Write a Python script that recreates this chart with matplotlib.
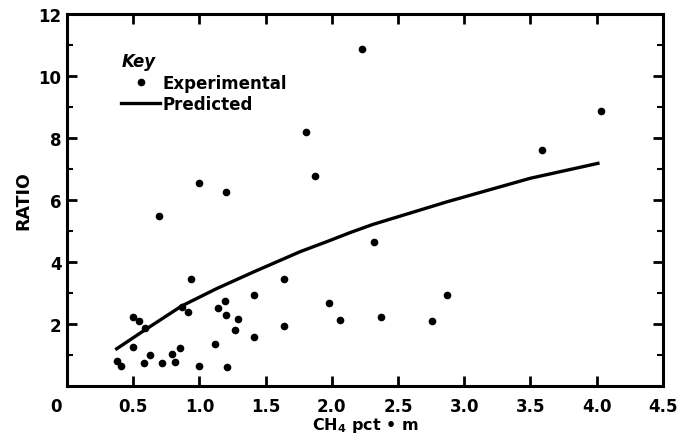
import matplotlib
matplotlib.use('Agg')
import matplotlib.pyplot as plt
import matplotlib.transforms as mtransforms
import numpy as np

plt.rcParams['font.family'] = ['DejaVu Sans']
plt.rcParams['font.weight'] = 'bold'
plt.rcParams['mathtext.fontset'] = 'custom'
plt.rcParams['mathtext.rm'] = 'DejaVu Sans:bold'
plt.rcParams['mathtext.bf'] = 'DejaVu Sans:bold'

# experimental points
exp_x = [0.38, 0.41, 0.50, 0.50, 0.54, 0.58, 0.59, 0.63, 0.695, 0.715,
         0.79, 0.815, 0.85, 0.866, 0.916, 0.94, 1.00, 1.00, 1.12, 1.14,
         1.19, 1.20, 1.20, 1.21, 1.27, 1.29, 1.415, 1.415, 1.64, 1.64,
         1.805, 1.87, 1.98, 2.06, 2.23, 2.32, 2.37, 2.76, 2.87, 3.59, 4.03]
exp_y = [0.80, 0.66, 1.25, 2.22, 2.08, 0.74, 1.87, 1.00, 5.49, 0.73,
         1.02, 0.77, 1.23, 2.55, 2.39, 3.46, 0.66, 6.54, 1.34, 2.52,
         2.73, 6.27, 2.30, 0.62, 1.82, 2.15, 2.94, 1.58, 3.46, 1.92,
         8.18, 6.77, 2.68, 2.14, 10.88, 4.65, 2.23, 2.11, 2.94, 7.60, 8.86]

# predicted curve
pred_x = [0.375, 0.60, 0.866, 1.13, 1.41, 1.76, 1.99, 2.14, 2.31, 2.87, 3.50, 4.01]
pred_y = [1.20, 1.84, 2.58, 3.14, 3.68, 4.33, 4.70, 4.95, 5.21, 5.94, 6.70, 7.18]

xticks = [0, 0.5, 1.0, 1.5, 2.0, 2.5, 3.0, 3.5, 4.0, 4.5]
xlabels = ['0', '0.5', '1.0', '1.5', '2.0', '2.5', '3.0', '3.5', '4.0', '4.5']
yticks = [2, 4, 6, 8, 10, 12]

fig = plt.figure(figsize=(6.77, 4.39), dpi=100)
ax = fig.add_axes([0.099, 0.1185, 0.88, 0.8475])

ax.plot(exp_x, exp_y, 'o', color='black', markersize=4.5, label='Experimental')
ax.plot(pred_x, pred_y, '-', color='black', linewidth=2.4, label='Predicted')

ax.set_xlim(0, 4.5)
ax.set_ylim(0, 12)
ax.set_xticks(xticks)
ax.set_xticklabels(xlabels)
ax.set_yticks(yticks)
ax.set_yticks(np.arange(1, 12, 2), minor=True)

ax.tick_params(axis='x', which='major', direction='in', length=7, width=2,
               top=True, labelsize=12, pad=8)
ax.tick_params(axis='y', which='major', direction='in', length=7, width=2,
               right=True, labelsize=12, pad=4)
ax.tick_params(axis='y', which='minor', direction='in', length=4, width=1.5,
               right=True)
for s in ax.spines.values():
    s.set_linewidth(2.2)

# shift the origin label left like the original
lab0 = ax.get_xticklabels()[0]
lab0.set_transform(lab0.get_transform() +
                   mtransforms.ScaledTranslation(-0.11, 0, fig.dpi_scale_trans))

ax.set_xlabel('CH$_4$ pct \u2022 m', fontsize=11.5, fontweight='bold', labelpad=0)
ax.set_ylabel('RATIO', fontsize=12.5, fontweight='bold', labelpad=4)

leg = ax.legend(loc='upper left', bbox_to_anchor=(0.08, 0.915), frameon=False,
                title='Key', fontsize=12, handlelength=2.3, handletextpad=0.15,
                labelspacing=0.2, alignment='left', borderaxespad=0)
leg.get_title().set_fontsize(12)
leg.get_title().set_fontweight('bold')
leg.get_title().set_fontstyle('italic')

fig.savefig('out.png', dpi=100)
